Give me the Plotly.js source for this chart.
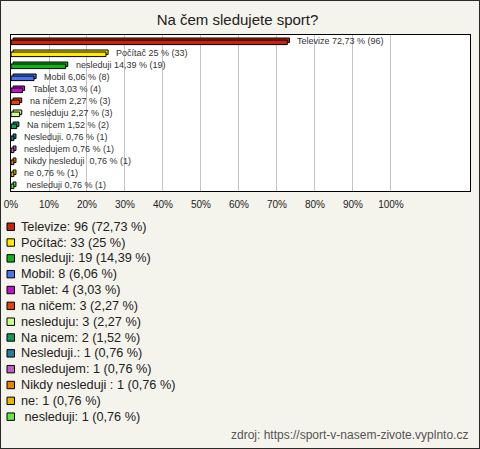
<!DOCTYPE html>
<html><head><meta charset="utf-8">
<script src="https://cdn.plot.ly/plotly-3.0.1.min.js"></script>
<style>
html,body{margin:0;padding:0;background:#F4F3EC;}
#wrap{width:480px;height:449px;box-sizing:border-box;border:1px solid #2a2a2a;}
#chart{width:478px;height:447px;}
</style>
</head><body>
<div id="wrap"><div id="chart"></div></div>
<script>
// ---- data ----
const categories = ["Televize","Počítač","nesleduji","Mobil","Tablet","na ničem","nesleduju","Na nicem","Nesleduji.","nesledujem","Nikdy nesleduji ","ne"," nesleduji"];
const counts = [96,33,19,8,4,3,3,2,1,1,1,1,1];
const percents = [72.73,25,14.39,6.06,3.03,2.27,2.27,1.52,0.76,0.76,0.76,0.76,0.76];
const colors = ["#C42410","#FFEA00","#10B418","#4C72EE","#C010CC","#E0440C","#CCFF88","#109A60","#20809C","#C060C0","#EE8000","#E8B800","#60E840"];
const tickValues = [0,10,20,30,40,50,60,70,80,90,100];
const tickLabels = ["0%","10%","20%","30%","40%","50%","60%","70%","80%","90%","100%"];
const titleText = "Na čem sledujete sport?";
const sourceText = "zdroj: https://sport-v-nasem-zivote.vyplnto.cz";

// ---- helpers ----
const fmt = p => String(p).replace('.', ',');
const keepSpaces = s => s.replace(/ /g, '\u00A0');
const idx = categories.map((_, i) => i);
// page pixel -> paper coordinates (plot area: graph x 10..469, y 34..190; graph = page - 1)
const PL = 10, PW = 459, PB = 190, PH = 156;
const px = x => (x - 1 - PL) / PW;
const py = y => (PB - (y - 1)) / PH;

const barLabels = categories.map((c, i) => keepSpaces(c + ' ' + fmt(percents[i]) + ' % (' + counts[i] + ')'));
const legendLabels = categories.map((c, i) => keepSpaces(c + ': ' + counts[i] + ' (' + fmt(percents[i]) + ' %)'));

const back = {
  type: 'bar', orientation: 'h', x: percents, y: idx, base: 0.55,
  width: 0.38, offset: -0.25,
  marker: {color: colors, line: {color: '#000', width: 1}},
  showlegend: false, hoverinfo: 'skip'
};
const front = {
  type: 'bar', orientation: 'h', x: percents, y: idx, base: 0,
  width: 0.38, offset: -0.08,
  marker: {color: colors, line: {color: '#000', width: 1}},
  showlegend: false, hoverinfo: 'skip'
};

const annotations = [];
const shapes = [];
idx.forEach(i => {
  annotations.push({
    x: percents[i], y: i, xref: 'x', yref: 'y', text: barLabels[i],
    showarrow: false, xanchor: 'left', yanchor: 'middle', xshift: 8,
    font: {size: 9, color: '#333', family: 'Liberation Sans, Arial, sans-serif'}
  });
  const yc = 226.7 + 15.83 * i;
  annotations.push({
    x: px(19), y: py(yc), xref: 'paper', yref: 'paper', text: legendLabels[i],
    showarrow: false, xanchor: 'left', yanchor: 'middle',
    font: {size: 12.7, color: '#222', family: 'Liberation Sans, Arial, sans-serif'}
  });
  shapes.push({
    type: 'rect', xref: 'paper', yref: 'paper',
    x0: px(7), x1: px(14.5), y0: py(yc + 3.7), y1: py(yc - 3.7),
    fillcolor: colors[i], line: {color: '#000', width: 1}
  });
});
annotations.push({
  x: px(470), y: py(435), xref: 'paper', yref: 'paper', text: sourceText,
  showarrow: false, xanchor: 'right', yanchor: 'middle',
  font: {size: 12, color: '#555', family: 'Liberation Sans, Arial, sans-serif'}
});

const layout = {
  width: 478, height: 447,
  margin: {l: 10, r: 9, t: 34, b: 257, pad: 0},
  paper_bgcolor: '#F4F3EC', plot_bgcolor: '#FFFFFF',
  font: {family: 'Liberation Sans, Arial, sans-serif', color: '#222'},
  title: {text: titleText, xref: 'container', yref: 'container', x: 236.5/478, y: 1 - 19/447,
          xanchor: 'center', yanchor: 'middle', font: {size: 15, color: '#222'}},
  barmode: 'overlay',
  xaxis: {range: [0, 120.8], tickvals: tickValues, ticktext: tickLabels,
          showgrid: true, gridcolor: '#C4C4C4', gridwidth: 1, zeroline: false,
          showline: true, mirror: true, linecolor: '#000', linewidth: 1,
          ticks: 'outside', ticklen: 4, tickcolor: 'rgba(0,0,0,0)',
          tickfont: {size: 10, color: '#222'}, fixedrange: true},
  yaxis: {range: [12.5, -0.5], showgrid: false, zeroline: false, showticklabels: false,
          showline: true, mirror: true, linecolor: '#000', linewidth: 1, ticks: '', fixedrange: true},
  annotations: annotations,
  shapes: shapes
};

Plotly.newPlot('chart', [back, front], layout, {staticPlot: true, displayModeBar: false});
</script>
</body></html>
